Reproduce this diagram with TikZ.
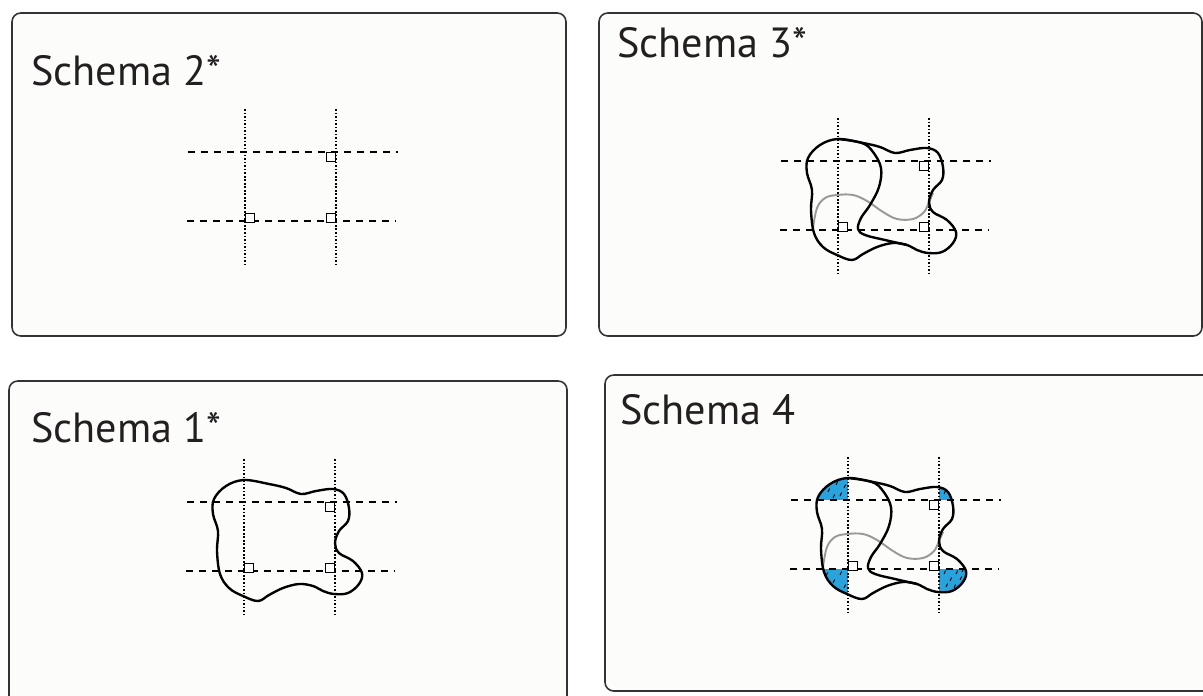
\documentclass[tikz,border=0pt]{standalone}
\usepackage{fontspec}
\setmainfont{PT Sans}

\definecolor{paper}{HTML}{FCFCFA}
\definecolor{edge}{HTML}{333333}
\definecolor{ink}{HTML}{231F20}
\definecolor{zone}{HTML}{29A3DB}

\tikzset{
  panel/.style={draw=edge,line width=0.9pt,rounded corners=5pt,fill=paper},
  title/.style={anchor=base west,inner sep=0pt,font=\fontsize{24}{28}\selectfont,text=ink},
  hline/.style={line width=0.65pt,dash pattern=on 4.2pt off 3.2pt},
  vline/.style={line width=0.65pt,dash pattern=on 1pt off 1pt},
  marker/.style={draw,fill=white,line width=0.9pt,minimum size=5pt,inner sep=0pt},
  outline/.style={line width=1.35pt},
  track/.style={black!40,line width=1.1pt},
}

% outline of the parcel, around the grid origin
\newcommand{\blob}{plot[smooth cycle,tension=0.6] coordinates {(0,-22) (25,-18) (42,-14) (57,-8) (72,-11) (89,-13) (100,-8) (105,6) (104,19) (95,29) (91,41) (95,51) (109,59) (118,71) (115,82) (104,91) (90,92) (79,89) (69,84) (55,82) (39,86) (25,93) (14,99) (-1,94) (-15,86) (-24,72) (-27,49) (-26,29) (-31,12) (-30,-3) (-18,-16)}}
\newcommand{\inner}{plot[smooth,tension=0.6] coordinates {(0,-22) (24,-18) (35,-9) (43,7) (41,26) (32,44) (23,57) (20,68) (27,74) (47,79) (69,84)}}
\newcommand{\track}{plot[smooth,tension=0.6] coordinates {(-25,67) (-21,47) (-13,37) (-1,34) (15,34) (29,40) (45,51) (59,58) (75,58) (86,51) (91,41) (95,32)}}

% two dashed rows, two dotted columns
\newcommand{\grid}{
  \draw[hline] (-57,0) -- (153,0);
  \draw[hline] (-58,69) -- (151,69);
  \draw[vline] (0,-43) -- (0,112);
  \draw[vline] (91,-43) -- (91,112);
}
% three markers, named after the schema
\newcommand{\markers}[1]{
  \node[marker] (#1-a) at (86,5) {};
  \node[marker] (#1-b) at (5,66) {};
  \node[marker] (#1-c) at (86,66) {};
}

\begin{document}
\begin{tikzpicture}[x=0.02cm,y=-0.02cm]

\useasboundingbox (0,0) rectangle (1203,696);
\clip (0,0) rectangle (1203,696);

\draw [panel] (12,13) rectangle (566,336);
\draw [panel] (599,13) rectangle (1202,336);
\draw [panel] (9,381) rectangle (567,730);
\draw [panel] (605,375) rectangle (1240,691);

\node [title] (t2) at (31,86) {Schema 2*};
\node [title] (t3) at (617,58) {Schema 3*};
\node [title] (t1) at (31,442) {Schema 1*};
\node [title] (t4) at (620,424) {Schema 4};

% Schema 2*
\begin{scope}[shift={(245,152)}]
\grid
\markers{s2}
\end{scope}

% Schema 1*
\begin{scope}[shift={(244,502)}]
\grid
\draw [outline] \blob;
\markers{s1}
\end{scope}

% Schema 3*
\begin{scope}[shift={(838,161)}]
\grid
\draw [track] \track;
\draw [outline] \blob;
\draw [outline] \inner;
\markers{s3}
\end{scope}

% Schema 4
\begin{scope}[shift={(848,500)}]
\begin{scope}
\clip \blob;
\fill [zone] (-40,-30) rectangle (0,0);
\fill [zone] (91,-30) rectangle (130,0);
\fill [zone] (-40,69) rectangle (0,110);
\fill [zone] (91,69) rectangle (130,110);
\foreach \p in {(-20,-8),(-12,-15),(-8,-4),(-4,-12),(-15,-2),(96,-6),
  (-22,76),(-15,83),(-8,75),(-4,88),(-12,92),(-18,88),(-6,97),
  (96,74),(102,81),(108,74),(98,87),(106,88),(112,80),(114,72),(100,96)}
  \draw [line width=0.5pt] \p -- ++(1.6,-3.5);
\end{scope}
\grid
\draw [track] \track;
\draw [outline] \blob;
\draw [outline] \inner;
\markers{s4}
\end{scope}

\end{tikzpicture}
\end{document}
